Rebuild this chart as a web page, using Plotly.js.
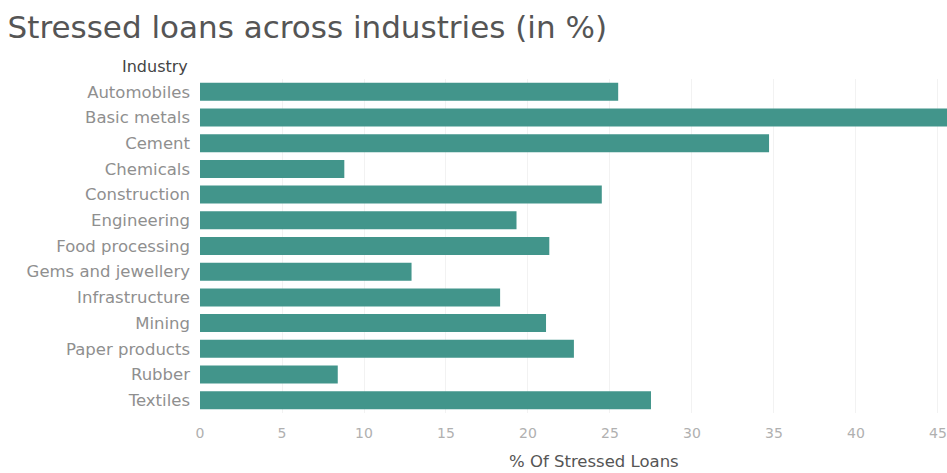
<!DOCTYPE html>
<html>
<head>
<meta charset="utf-8">
<script src="https://cdn.plot.ly/plotly-3.0.1.min.js"></script>
<style>html,body{margin:0;padding:0;background:#fff;overflow:hidden}</style>
</head>
<body>
<div id="chart" style="width:947px;height:473px"></div>
<script>
const industries = ["Automobiles","Basic metals","Cement","Chemicals","Construction","Engineering","Food processing","Gems and jewellery","Infrastructure","Mining","Paper products","Rubber","Textiles"];
const stressedPct = [25.5, 46.0, 34.7, 8.8, 24.5, 19.3, 21.3, 12.9, 18.3, 21.1, 22.8, 8.4, 27.5];
const xTicks = [0,5,10,15,20,25,30,35,40,45];

const trace = {
  type: 'bar',
  orientation: 'h',
  y: industries,
  x: stressedPct,
  marker: {color: '#42958b'},
  hoverinfo: 'x+y'
};

const layout = {
  width: 947, height: 473,
  margin: {l: 200, r: 0, t: 79, b: 60},
  paper_bgcolor: '#ffffff', plot_bgcolor: '#ffffff',
  bargap: 0.3,
  showlegend: false,
  title: {text: 'Stressed loans across industries (in %)', x: 0.008, xanchor: 'left', y: 0.943, yanchor: 'middle',
          font: {family: 'DejaVu Sans', size: 31, color: '#555555'}},
  xaxis: {range: [0, 45.55], tickvals: xTicks, ticktext: xTicks.map(String), showgrid: true, gridcolor: '#f2f2f2',
          zeroline: false, showline: false, ticks: '', tickfont: {family: 'DejaVu Sans', size: 14, color: '#b0b0b0'},
          ticklabelstandoff: 10, fixedrange: true},
  yaxis: {autorange: 'reversed', showgrid: false, zeroline: false, showline: false, ticks: '',
          tickfont: {family: 'DejaVu Sans', size: 16.5, color: '#8f8f8f'}, ticklabelstandoff: 9, fixedrange: true},
  annotations: [
    {text: 'Industry', xref: 'paper', yref: 'paper', x: -0.014, y: 1.003, xanchor: 'right', yanchor: 'bottom', showarrow: false,
     font: {family: 'DejaVu Sans', size: 16, color: '#444444'}},
    {text: '% Of Stressed Loans', xref: 'paper', yref: 'paper', x: 0.527, y: -0.112, xanchor: 'center', yanchor: 'top', showarrow: false,
     font: {family: 'DejaVu Sans', size: 16.5, color: '#555555'}}
  ]
};

Plotly.newPlot('chart', [trace], layout, {displayModeBar: false, staticPlot: true});
</script>
</body>
</html>
